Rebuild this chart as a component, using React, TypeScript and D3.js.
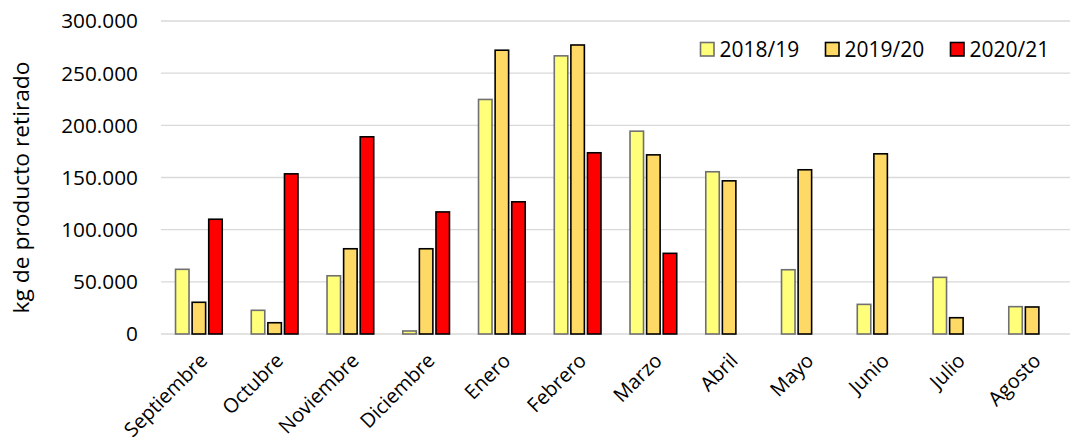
import React from "react";
import * as d3 from "d3";

const months = ["Septiembre","Octubre","Noviembre","Diciembre","Enero","Febrero","Marzo","Abril","Mayo","Junio","Julio","Agosto"];
const seriesNames = ["2018/19","2019/20","2020/21"];
const s2018 = [62000,22700,55800,2900,224800,266600,194400,155500,61600,28400,54300,26200];
const s2019 = [30400,10800,81700,81700,272000,277000,171700,146800,157400,172700,15600,25900];
const s2020: (number|null)[] = [110000,153500,189000,117000,126700,173700,77300,null,null,null,null,null];
const yTicks = [0,50000,100000,150000,200000,250000,300000];
const colors = ["#FFFF79","#FFD966","#FF0000"];
const strokes = ["#707070","#000000","#000000"];

export default function App() {
  const W = 1071, H = 444;
  const left = 161, right = 1070, top = 21, bottom = 334;
  const x = d3.scaleBand<string>().domain(months).range([left, right]).paddingInner(0).paddingOuter(0);
  const y = d3.scaleLinear().domain([0, 300000]).range([bottom, top]);
  const data = [s2018, s2019, s2020];
  const barW = 13.5, step = 16.6;
  const fmt = (v: number) => v === 0 ? "0" : d3.format(",")(v).replace(/,/g, ".");
  const font = "'Open Sans', sans-serif";
  return (
    <svg width={W} height={H} style={{ position: "absolute", left: 0, top: 0, background: "#fff" }} fontFamily={font}>
      {yTicks.map(t => (
        <g key={t}>
          <line x1={left} x2={right} y1={y(t)} y2={y(t)} stroke="#d9d9d9" strokeWidth={1.3} />
          <text x={138} y={y(t)} dy="0.36em" textAnchor="end" fontSize={20.8} fill="#000">{fmt(t)}</text>
        </g>
      ))}
      <text transform={`translate(29,187.5) rotate(-90)`} textAnchor="middle" fontSize={21} textLength={252} lengthAdjust="spacingAndGlyphs" fill="#000">kg de producto retirado</text>
      {months.map((m, i) => {
        const c = (x(m) as number) + x.bandwidth() / 2;
        return (
          <g key={m}>
            {data.map((s, k) => {
              const v = s[i];
              if (v == null) return null;
              const bx = c + (k - 1) * step - barW / 2;
              return <rect key={k} x={bx} y={y(v)} width={barW} height={bottom - y(v)} fill={colors[k]} stroke={strokes[k]} strokeWidth={1.6} />;
            })}
            <text transform={`translate(${c},${352}) rotate(-45)`} textAnchor="end" dy="0.7em" fontSize={20} fill="#000">{m}</text>
          </g>
        );
      })}
      {seriesNames.map((n, k) => {
        const lx = [700, 825, 950][k];
        return (
          <g key={n}>
            <rect x={lx + 0.5} y={42.5} width={13.5} height={13.5} fill={colors[k]} stroke={strokes[k]} strokeWidth={1.6} />
            <text x={lx + 19.5} y={56.5} fontSize={21} fill="#000">{n}</text>
          </g>
        );
      })}
    </svg>
  );
}
